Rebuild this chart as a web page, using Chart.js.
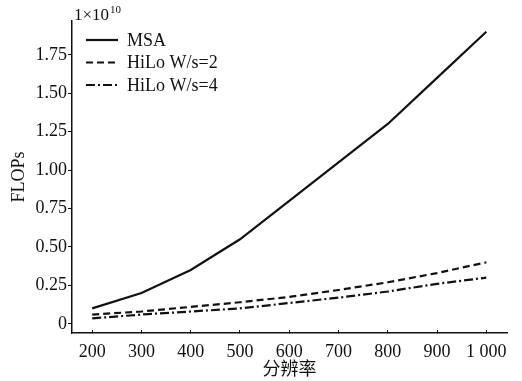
<!DOCTYPE html>
<html>
<head>
<meta charset="utf-8">
<script src="https://cdn.jsdelivr.net/npm/chart.js@4.4.1/dist/chart.umd.min.js"></script>
<style>
  html, body { margin: 0; padding: 0; background: #fff; }
  #wrap { width: 522px; height: 381px; position: relative; }
</style>
</head>
<body>
<div id="wrap"><canvas id="flops"></canvas></div>
<script>
/* --- Data (units of 1e10 FLOPs) --- */
var RESOLUTIONS = [200, 300, 400, 500, 600, 700, 800, 900, 1000];
var MSA = [0.10, 0.20, 0.35, 0.55, 0.80, 1.05, 1.30, 1.60, 1.90];
var HILO_WS2 = [0.06, 0.08, 0.11, 0.14, 0.175, 0.22, 0.27, 0.33, 0.40];
var HILO_WS4 = [0.035, 0.06, 0.08, 0.10, 0.135, 0.17, 0.21, 0.26, 0.30];
var Y_TICKS = [0, 0.25, 0.5, 0.75, 1.0, 1.25, 1.5, 1.75];
var X_TICKS = [200, 300, 400, 500, 600, 700, 800, 900, 1000];
var SERIES_NAMES = ["MSA", "HiLo W/s=2", "HiLo W/s=4"];

var SERIF = '"Liberation Serif", "Times New Roman", "Noto Sans CJK SC", serif';
var INK = "#111111";

function toPoints(values) {
  return RESOLUTIONS.map(function (r, i) {
    return { x: r, y: values[i] };
  });
}

function lineSet(label, values, dash) {
  return {
    label: label,
    data: toPoints(values),
    borderColor: INK,
    backgroundColor: INK,
    borderWidth: 2.2,
    borderDash: dash,
    pointRadius: 0,
    tension: 0,
    fill: false,
  };
}

/* --- Legend drawn inside the plot, top-left --- */
var insideLegend = {
  id: "insideLegend",
  afterDatasetsDraw: function (chart) {
    var ctx = chart.ctx;
    var area = chart.chartArea;
    var x0 = area.left + 14;
    var y0 = area.top + 19;
    ctx.save();
    ctx.font = "18px " + SERIF;
    ctx.textBaseline = "middle";
    chart.data.datasets.forEach(function (ds, i) {
      var y = y0 + i * 22.5;
      ctx.beginPath();
      ctx.setLineDash(ds.borderDash || []);
      ctx.lineWidth = 2.2;
      ctx.strokeStyle = INK;
      ctx.moveTo(x0, y);
      ctx.lineTo(x0 + 32, y);
      ctx.stroke();
      ctx.setLineDash([]);
      ctx.fillStyle = INK;
      ctx.fillText(ds.label, x0 + 41, y + 1);
    });
    ctx.restore();
  },
};

/* --- Exponent marker above the y axis --- */
var exponentLabel = {
  id: "exponentLabel",
  afterDraw: function (chart) {
    var ctx = chart.ctx;
    var area = chart.chartArea;
    ctx.save();
    ctx.fillStyle = INK;
    ctx.textBaseline = "alphabetic";
    ctx.font = "17px " + SERIF;
    var base = "1\u00d710";
    ctx.fillText(base, area.left + 2, 20);
    var w = ctx.measureText(base).width;
    ctx.font = "11px " + SERIF;
    ctx.fillText("10", area.left + 3 + w, 13);
    ctx.restore();
  },
};

new Chart(document.getElementById("flops"), {
  type: "line",
  data: {
    datasets: [
      lineSet(SERIES_NAMES[0], MSA, []),
      lineSet(SERIES_NAMES[1], HILO_WS2, [7, 4]),
      lineSet(SERIES_NAMES[2], HILO_WS4, [9, 3, 2, 3]),
    ],
  },
  plugins: [insideLegend, exponentLabel],
  options: {
    responsive: true,
    maintainAspectRatio: false,
    animation: false,
    events: [],
    layout: { padding: { top: 21, right: 15, left: 0, bottom: 0 } },
    plugins: {
      legend: { display: false },
      tooltip: { enabled: false },
    },
    scales: {
      x: {
        type: "linear",
        min: 159,
        max: 1042,
        afterBuildTicks: function (scale) {
          scale.ticks = X_TICKS.map(function (v) { return { value: v }; });
        },
        afterFit: function (scale) { scale.height = 48; },
        border: { display: true, color: INK, width: 1.5 },
        grid: {
          display: true,
          drawOnChartArea: false,
          drawTicks: true,
          tickLength: -3,
          tickColor: INK,
          tickWidth: 1,
        },
        ticks: {
          color: INK,
          padding: 11,
          maxRotation: 0,
          font: { family: SERIF, size: 18 },
          callback: function (v) {
            return v === 1000 ? "1 000" : String(v);
          },
        },
        title: {
          display: true,
          text: "分辨率",
          color: INK,
          padding: { top: 0, bottom: 0 },
          font: { family: SERIF, size: 18 },
        },
      },
      y: {
        type: "linear",
        min: -0.06,
        max: 1.97,
        afterBuildTicks: function (scale) {
          scale.ticks = Y_TICKS.map(function (v) { return { value: v }; });
        },
        afterFit: function (scale) { scale.width = 72; },
        border: { display: true, color: INK, width: 1.5 },
        grid: {
          display: true,
          drawOnChartArea: false,
          drawTicks: true,
          tickLength: 4,
          tickColor: INK,
          tickWidth: 1,
        },
        ticks: {
          color: INK,
          padding: 1,
          font: { family: SERIF, size: 18 },
          callback: function (v) {
            return v === 0 ? "0" : v.toFixed(2);
          },
        },
        title: {
          display: true,
          text: "FLOPs",
          color: INK,
          padding: { top: 8, bottom: 0 },
          font: { family: SERIF, size: 18 },
        },
      },
    },
  },
});
</script>
</body>
</html>
